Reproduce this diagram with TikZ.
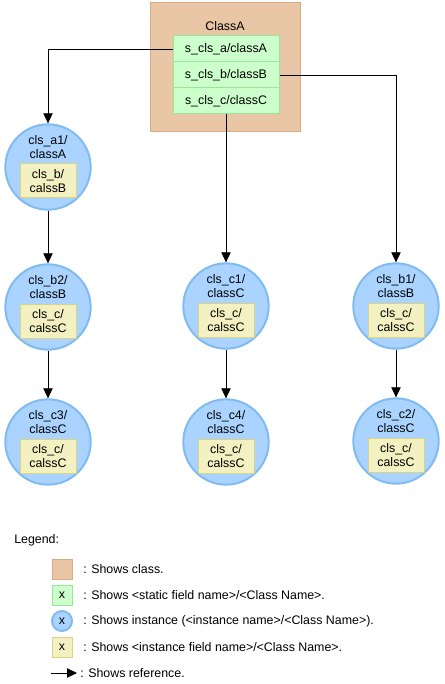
\documentclass[tikz,border=0pt]{standalone}
\usepackage{fontspec}
\setmainfont{Liberation Sans}
\usetikzlibrary{arrows.meta}

\definecolor{classfill}{HTML}{E8C6A6}
\definecolor{classline}{HTML}{D9AB85}
\definecolor{fieldfill}{HTML}{CCFFCC}
\definecolor{fieldline}{HTML}{99E699}
\definecolor{instfill}{HTML}{AAD4FF}
\definecolor{instline}{HTML}{80BBF2}
\definecolor{ifieldfill}{HTML}{F3F1C2}
\definecolor{ifieldline}{HTML}{D8D385}

\tikzset{
	every node/.style={font=\fontsize{9.3}{10.5}\selectfont, inner sep=0pt, align=center},
	classbox/.style={rectangle, fill=classfill, draw=classline, line width=0.75pt, minimum width=112.5pt, minimum height=96.75pt},
	sfield/.style={rectangle, fill=fieldfill, draw=fieldline, line width=0.75pt, minimum width=79.5pt, minimum height=19.5pt},
	inst/.style={circle, fill=instfill, draw=instline, line width=1.5pt, minimum size=64pt},
	ifield/.style={rectangle, fill=ifieldfill, draw=ifieldline, line width=0.75pt, minimum width=42pt, minimum height=25.5pt},
	ref/.style={-{Triangle[length=7.5pt,width=7pt]}, line width=0.6pt, black}
}

\newcommand{\instance}[5]{%
	\node[inst] (#1) at (#2,#3) {};
	\node (#1 name) at (#2,#3-20) {#4};
	\node[ifield] (#1 field) at (#2,#3+14) {#5};
}

\begin{document}
\begin{tikzpicture}[x=0.75pt, y=-0.75pt]
		\useasboundingbox (0,0) rectangle (444,684);

		% class with static fields
		\node[classbox] (classA) at (225,67.5) {};
		\node (classA name) at (225,26) {ClassA};
		\node[sfield] (fa) at (226,49) {s\_cls\_a/classA};
		\node[sfield] (fb) at (226,75) {s\_cls\_b/classB};
		\node[sfield] (fc) at (226,101) {s\_cls\_c/classC};

		% instances
		\instance{a1}{48}{167}{cls\_a1/\\classA}{cls\_b/\\calssB}
		\instance{b2}{48}{307}{cls\_b2/\\classB}{cls\_c/\\calssC}
		\instance{c3}{48}{442}{cls\_c3/\\classC}{cls\_c/\\calssC}
		\instance{c1}{226}{306}{cls\_c1/\\classC}{cls\_c/\\calssC}
		\instance{c4}{226}{442}{cls\_c4/\\classC}{cls\_c/\\calssC}
		\instance{b1}{396}{306}{cls\_b1/\\classB}{cls\_c/\\calssC}
		\instance{c2}{396}{441}{cls\_c2/\\classC}{cls\_c/\\calssC}

		\draw[ref] (fa.west) -| (a1.north);
		\draw[ref] (fb.east) -| (b1.north);
		\draw[ref] (fc.south) -- (c1.north);
		\draw[ref] (a1) -- (b2);
		\draw[ref] (b2) -- (c3);
		\draw[ref] (c1) -- (c4);
		\draw[ref] (b1) -- (c2);

		% legend
		\node[anchor=west] (legend) at (14,540) {Legend:};
		\node[rectangle, fill=classfill, draw=classline, line width=0.75pt, minimum size=15pt] (lclass) at (62,569) {};
		\node[sfield, minimum width=15pt, minimum height=15pt] (lfield) at (62,595) {x};
		\node[inst, minimum size=15pt] (linst) at (62,621) {x};
		\node[ifield, minimum width=15pt, minimum height=15pt] (lifield) at (62,647) {x};
		\coordinate (larrow a) at (51,673);
		\coordinate (larrow b) at (77,673);
		\draw[ref] (larrow a) -- (larrow b);
		\node[anchor=west] (tclass) at (83,569) {: Shows class.};
		\node[anchor=west] (tfield) at (83,595) {: Shows <static field name>/<Class Name>.};
		\node[anchor=west] (tinst) at (83,621) {: Shows instance (<instance name>/<Class Name>).};
		\node[anchor=west] (tifield) at (83,647) {: Shows <instance field name>/<Class Name>.};
		\node[anchor=west] (tref) at (80,673) {: Shows reference.};
	\end{tikzpicture}
\end{document}
